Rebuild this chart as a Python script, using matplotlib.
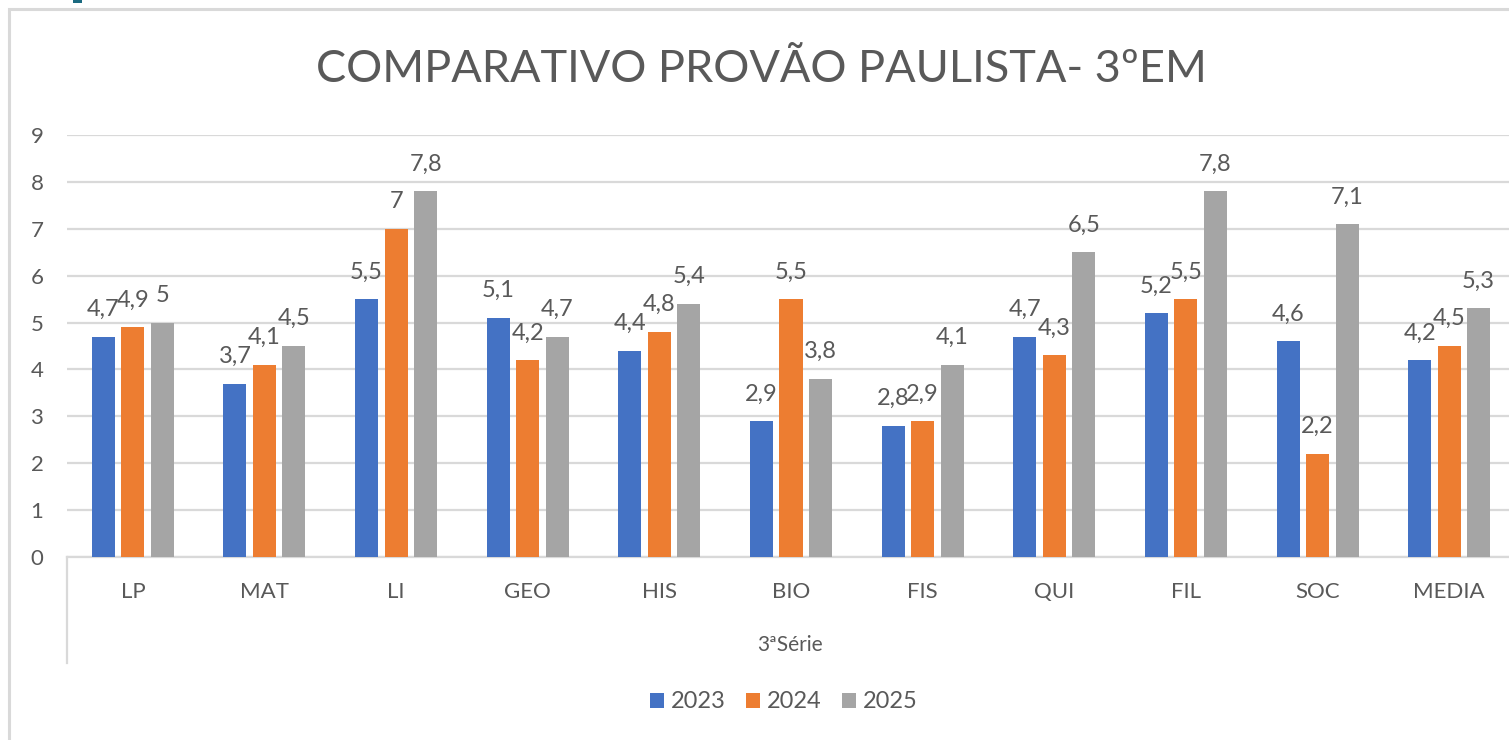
import numpy as np
import matplotlib.pyplot as plt
from matplotlib.patches import Rectangle

# Data
categorias = ["LP", "MAT", "LI", "GEO", "HIS", "BIO", "FIS", "QUI", "FIL", "SOC", "MEDIA"]
anos = ["2023", "2024", "2025"]
notas_2023 = [4.7, 3.7, 5.5, 5.1, 4.4, 2.9, 2.8, 4.7, 5.2, 4.6, 4.2]
notas_2024 = [4.9, 4.1, 7.0, 4.2, 4.8, 5.5, 2.9, 4.3, 5.5, 2.2, 4.5]
notas_2025 = [5.0, 4.5, 7.8, 4.7, 5.4, 3.8, 4.1, 6.5, 7.8, 7.1, 5.3]
yticks = list(range(0, 10))

cores = ["#4472C4", "#ED7D31", "#A5A5A5"]
texto = "#595959"
plt.rcParams['font.family'] = ['Lato', 'DejaVu Sans']

W, H = 1509, 740
fig = plt.figure(figsize=(W / 100, H / 100), dpi=100)

# chart frame (runs off the right/bottom of the picture)
fig.patches.append(Rectangle((9 / W, -0.1), 1.2, (H - 9) / H + 0.1, transform=fig.transFigure,
                             fill=False, edgecolor="#d9d9d9", linewidth=2.2))
fig.patches.append(Rectangle((73 / W, (H - 3) / H), 9 / W, 3 / H, transform=fig.transFigure,
                             facecolor="#1b6a80", edgecolor="none"))

x0, x1 = 67, 1515
y0, y9 = 557, 135
ax = fig.add_axes([x0 / W, (H - y0) / H, (x1 - x0) / W, (y0 - y9) / H])

x = np.arange(len(categorias))
largura = 0.175
passo = 0.224
series = [notas_2023, notas_2024, notas_2025]
for i, (vals, cor, ano) in enumerate(zip(series, cores, anos)):
    barras = ax.bar(x + (i - 1) * passo, vals, largura, color=cor, label=ano, zorder=3)
    for b, v in zip(barras, vals):
        rot = f"{v:g}".replace(".", ",")
        ax.annotate(rot, (b.get_x() + b.get_width() / 2, v), xytext=(0, 12),
                    textcoords="offset points", ha="center", va="bottom",
                    fontsize=17, color=texto)

ax.set_xlim(-0.5, len(categorias) - 0.5)
ax.set_ylim(0, 9)
ax.set_yticks(yticks)
ax.set_yticklabels([str(t) for t in yticks])
ax.set_xticks(x)
ax.set_xticklabels(categorias)
ax.tick_params(axis="both", length=0, labelsize=16, colors=texto)
ax.tick_params(axis="y", pad=17)
ax.tick_params(axis="x", pad=18)
ax.yaxis.grid(True, color="#d9d9d9", linewidth=1.6, zorder=0)
ax.set_axisbelow(True)
for s in ["top", "right", "left"]:
    ax.spines[s].set_visible(False)
ax.spines["bottom"].set_color("#d9d9d9")
ax.spines["bottom"].set_linewidth(1.6)

# category-axis separator line
ax.plot([0, 0], [0, -(663 - 557) / (y0 - y9)], transform=ax.transAxes,
        color="#d9d9d9", linewidth=1.6, clip_on=False)

fig.text(790 / W, 1 - 645 / H, "3ªSérie", ha="center", va="center", fontsize=15, color=texto)
fig.text(761 / W, 1 - 70 / H, "COMPARATIVO PROVÃO PAULISTA- 3ºEM", ha="center", va="center",
         fontsize=32.5, color=texto)

leg = fig.legend(loc="center", bbox_to_anchor=(784 / W, 1 - 702 / H), ncol=3, frameon=False,
                 fontsize=17, handlelength=0.6, handleheight=0.6, handletextpad=0.3,
                 columnspacing=0.85, labelcolor=texto)

fig.savefig("out.png", dpi=100, facecolor="white")
